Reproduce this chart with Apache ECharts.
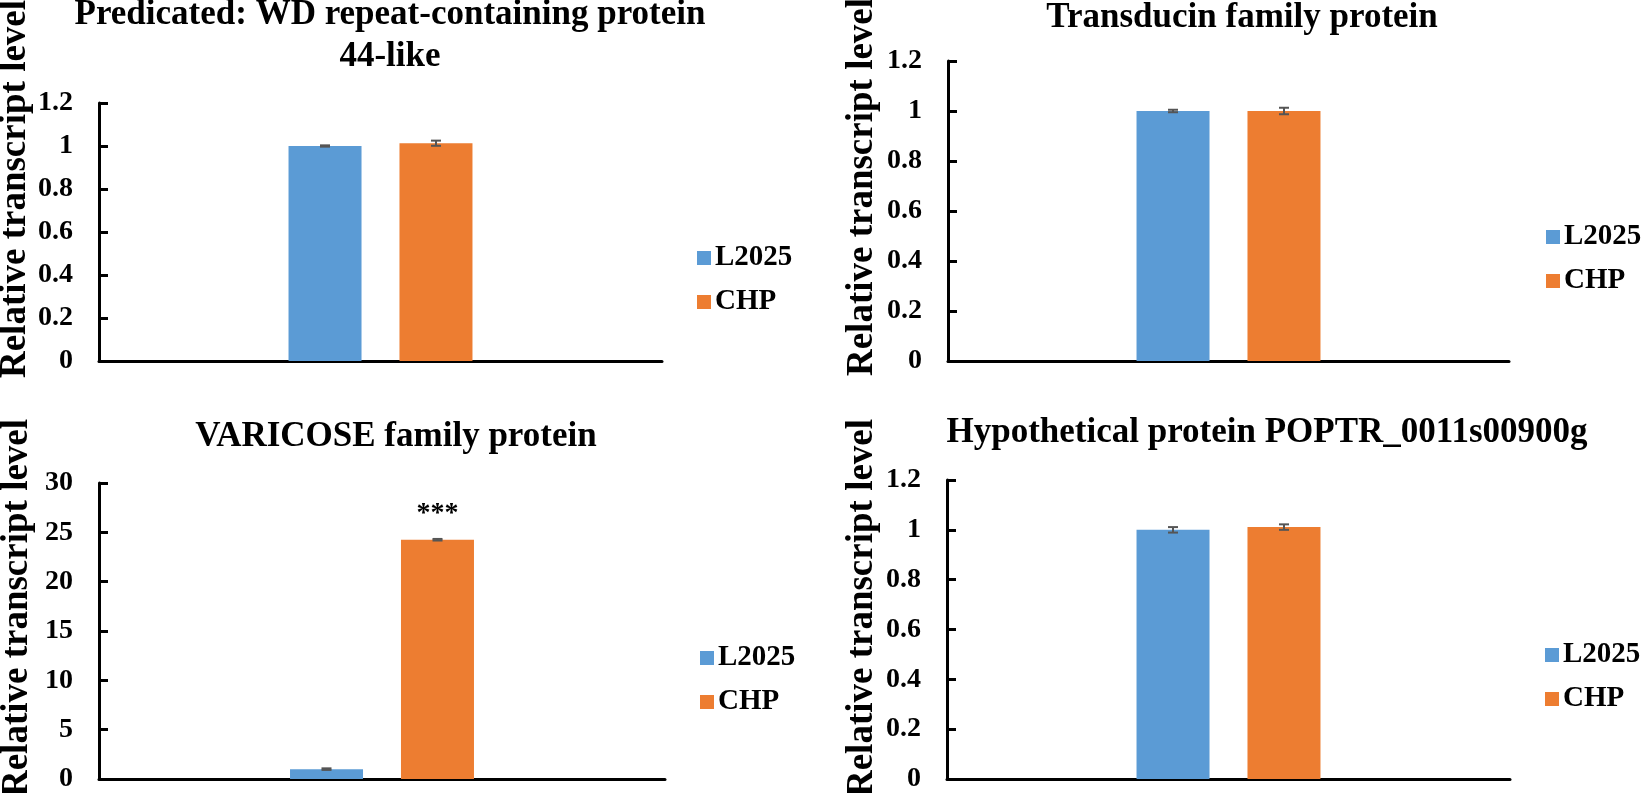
<!DOCTYPE html>
<html>
<head>
<meta charset="utf-8">
<script src="https://cdn.jsdelivr.net/npm/echarts@6/dist/echarts.min.js"></script>
<style>
html,body{margin:0;padding:0;background:#fff;}
#main{width:1645px;height:793px;}
</style>
</head>
<body>
<div id="main"></div>
<script>
// ---- data ----
const categories = [''];
const seriesNames = ['L2025', 'CHP'];
const panelTitles = [
  'Predicated: WD repeat-containing protein\n44-like',
  'Transducin family protein',
  'VARICOSE family protein',
  'Hypothetical protein POPTR_0011s00900g'
];
const l2025Values = [1.0, 1.0, 1.0, 1.0];
const chpValues = [1.013, 1.0, 24.25, 1.011];
const l2025Errors = [0.003, 0.005, 0.08, 0.011];
const chpErrors = [0.012, 0.013, 0.08, 0.011];
const sigMarks = ['', '', '***', ''];
const yMax = [1.2, 1.2, 30, 1.2];
const yInterval = [0.2, 0.2, 5, 0.2];
const yAxisTitle = 'Relative transcript level';

// ---- layout / style ----
const FONT = '"Liberation Serif", "Times New Roman", serif';
const BLUE = '#5B9BD5', ORANGE = '#ED7D31', ERR = '#555555';
const grids = [
  {left: 99, top: 103, width: 563, height: 258},
  {left: 948, top: 61, width: 561, height: 300},
  {left: 99, top: 483, width: 566, height: 298},
  {left: 947, top: 480, width: 563, height: 301}
];
const titlePos = [
  {x: 390, y: -6}, {x: 1242, y: -3}, {x: 396, y: 416}, {x: 1267, y: 412}
];
const yNamePos = [[15, 189], [862, 187], [17, 608], [862, 608]];
const legendPos = [[697, 243], [1546, 222], [700, 643], [1545, 640]];
const BAR_W = 73, BAR_OFFSET = 55.5;

const option = {
  backgroundColor: '#fff',
  animation: false,
  title: panelTitles.map((t, i) => ({
    text: t, left: titlePos[i].x, top: titlePos[i].y, textAlign: 'center', padding: 0,
    textStyle: {fontFamily: FONT, fontWeight: 'bold', fontSize: 35, color: '#000', lineHeight: 42}
  })),
  legend: legendPos.map(p => ({
    data: seriesNames, orient: 'vertical', left: p[0], top: p[1], padding: 0,
    icon: 'rect', itemWidth: 14, itemHeight: 14, itemGap: 14,
    textStyle: {fontFamily: FONT, fontWeight: 'bold', fontSize: 29, color: '#000', lineHeight: 30, padding: [0, 0, 0, -1]}
  })),
  grid: grids,
  xAxis: grids.map((g, i) => ({
    type: 'category', gridIndex: i, data: categories,
    axisLine: {lineStyle: {color: '#000', width: 3}},
    axisTick: {show: false}, axisLabel: {show: false}
  })),
  yAxis: grids.map((g, i) => ({
    type: 'value', gridIndex: i, min: 0, max: yMax[i], interval: yInterval[i],
    splitLine: {show: false},
    axisLine: {show: true, lineStyle: {color: '#000', width: 3}},
    axisTick: {show: true, inside: true, length: 9, lineStyle: {color: '#000', width: 3}},
    axisLabel: {
      margin: 26, color: '#000', fontFamily: FONT, fontWeight: 'bold', fontSize: 28,
      formatter: v => String(+v.toFixed(1))
    }
  })),
  graphic: yNamePos.map(p => ({
    type: 'text', x: p[0], y: p[1], rotation: Math.PI / 2,
    style: {text: yAxisTitle, font: 'bold 37px ' + FONT, fill: '#000', align: 'center', verticalAlign: 'middle'}
  })),
  series: []
};

for (let i = 0; i < 4; i++) {
  option.series.push({
    name: seriesNames[0], type: 'bar', xAxisIndex: i, yAxisIndex: i,
    barWidth: BAR_W, barGap: '52%',
    itemStyle: {color: BLUE},
    data: [l2025Values[i]]
  });
  option.series.push({
    name: seriesNames[1], type: 'bar', xAxisIndex: i, yAxisIndex: i,
    barWidth: BAR_W, barGap: '52%',
    itemStyle: {color: ORANGE},
    label: {
      show: sigMarks[i] !== '', position: 'top', distance: 12, formatter: sigMarks[i],
      fontFamily: FONT, fontWeight: 'bold', fontSize: 28, color: '#000'
    },
    data: [chpValues[i]]
  });
  option.series.push({
    type: 'custom', xAxisIndex: i, yAxisIndex: i, z: 10, silent: true,
    data: [[0, l2025Values[i], l2025Errors[i], -1], [0, chpValues[i], chpErrors[i], 1]],
    renderItem: function (params, api) {
      const v = api.value(1), e = api.value(2), side = api.value(3);
      const hi = api.coord([0, v + e]);
      const lo = api.coord([0, v - e]);
      const x = hi[0] + side * BAR_OFFSET;
      const st = {stroke: ERR, lineWidth: 2};
      return {
        type: 'group',
        children: [
          {type: 'line', shape: {x1: x, y1: hi[1], x2: x, y2: lo[1]}, style: st},
          {type: 'line', shape: {x1: x - 5, y1: hi[1], x2: x + 5, y2: hi[1]}, style: st},
          {type: 'line', shape: {x1: x - 5, y1: lo[1], x2: x + 5, y2: lo[1]}, style: st}
        ]
      };
    }
  });
}

const chart = echarts.init(document.getElementById('main'));
chart.setOption(option);
</script>
</body>
</html>
